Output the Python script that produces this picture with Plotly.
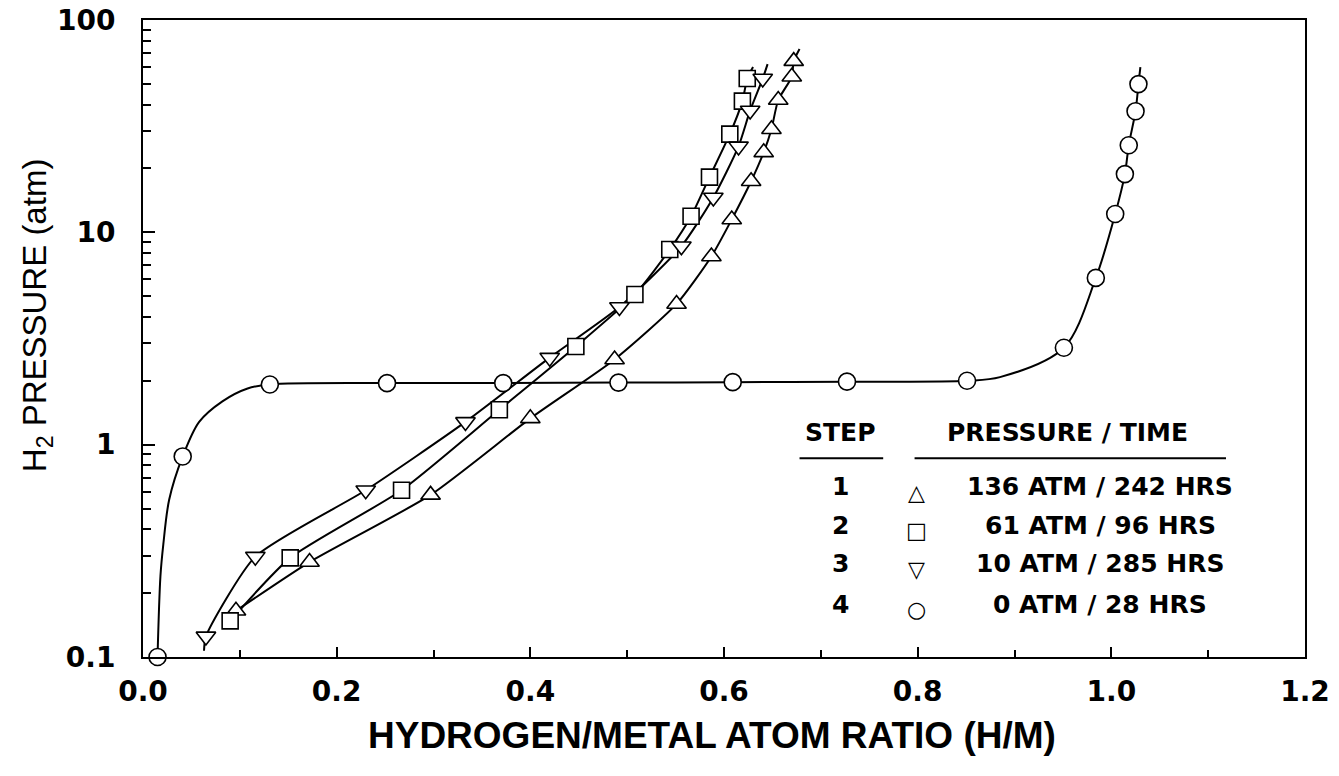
import plotly.graph_objects as go

# ---------- 数据 ----------
# step 1: 136 ATM / 242 HRS (up triangles)
step1_x = [0.096, 0.172, 0.297, 0.400, 0.487, 0.551, 0.587, 0.608, 0.628, 0.641, 0.649, 0.656, 0.670, 0.672]
step1_y = [0.165, 0.28, 0.58, 1.33, 2.52, 4.6, 7.7, 11.5, 17.4, 23.8, 30.6, 42.0, 54.0, 64.0]
# 曲线上无符号的延伸点
step1_path_x = [0.678]
step1_path_y = [73.0]

# step 2: 61 ATM / 96 HRS (squares)
step2_x = [0.090, 0.152, 0.267, 0.368, 0.447, 0.508, 0.544, 0.566, 0.585, 0.606, 0.619, 0.624]
step2_y = [0.148, 0.293, 0.61, 1.46, 2.9, 5.1, 8.3, 11.9, 18.2, 29.0, 41.5, 53.0]
step2_path_x = [0.630]
step2_path_y = [60.0]

# step 3: 10 ATM / 285 HRS (down triangles)
step3_x = [0.065, 0.116, 0.230, 0.333, 0.420, 0.492, 0.556, 0.589, 0.615, 0.627, 0.640]
step3_y = [0.125, 0.297, 0.61, 1.28, 2.57, 4.45, 8.6, 14.6, 25.4, 37.5, 53.0]
step3_path_x = [0.063, 0.645]
step3_path_y = [0.107, 62.0]

# step 4: 0 ATM / 28 HRS (circles)
step4_x = [0.015, 0.041, 0.131, 0.252, 0.372, 0.491, 0.609, 0.727, 0.851, 0.951, 0.984, 1.004, 1.014, 1.018, 1.025, 1.028]
step4_y = [0.10, 0.88, 1.92, 1.95, 1.95, 1.96, 1.97, 1.98, 2.0, 2.86, 6.1, 12.2, 18.8, 25.7, 37.2, 49.9]
step4_path_x = [0.018, 0.021, 0.027, 0.058, 0.082, 0.108, 0.885, 1.030]
step4_path_y = [0.24, 0.34, 0.55, 1.28, 1.60, 1.84, 2.08, 60.0]

legend_steps = ["1", "2", "3", "4"]
legend_symbols = ["\u25b3", "\u25a1", "\u25bd", "\u25cb"]
legend_labels = ["136 ATM / 242 HRS", "61 ATM / 96 HRS", "10 ATM / 285 HRS", "0 ATM / 28 HRS"]

x_ticks = [0.0, 0.2, 0.4, 0.6, 0.8, 1.0, 1.2]
x_ticktext = ["0.0", "0.2", "0.4", "0.6", "0.8", "1.0", "1.2"]
y_ticks = [0.1, 1, 10, 100]
y_ticktext = ["0.1", "1", "10", "100"]
y_minor = [m * d for d in (0.1, 1, 10) for m in range(2, 10)]

NUM_FONT = "DejaVu Sans"
TXT_FONT = "Liberation Sans"

series = [
    (step1_x, step1_y, step1_path_x, step1_path_y, "triangle-up", 17, 0.6),
    (step2_x, step2_y, step2_path_x, step2_path_y, "square", 16, 0.6),
    (step3_x, step3_y, step3_path_x, step3_path_y, "triangle-down", 17, 0.6),
    (step4_x, step4_y, step4_path_x, step4_path_y, "circle", 17, 0.9),
]

fig = go.Figure()

# 先画曲线（符号点 + 延伸点，按 x 排序）
for xs, ys, px, py, sym, sz, sm in series:
    pts = sorted(zip(list(xs) + list(px), list(ys) + list(py)))
    fig.add_trace(go.Scatter(x=[p[0] for p in pts], y=[p[1] for p in pts], mode="lines",
                             showlegend=False, hoverinfo="skip", cliponaxis=False,
                             line=dict(color="black", width=2, shape="spline", smoothing=sm)))

# 再画空心符号
for xs, ys, px, py, sym, sz, sm in series:
    fig.add_trace(go.Scatter(x=xs, y=ys, mode="markers", showlegend=False, cliponaxis=False,
                             marker=dict(symbol=sym, size=sz, color="white",
                                         line=dict(color="black", width=1.6))))

fig.update_xaxes(range=[0, 1.2], tickvals=x_ticks, ticktext=x_ticktext,
                 ticks="inside", ticklen=10, tickwidth=2, tickcolor="black",
                 minor=dict(ticks="inside", ticklen=7, tickwidth=2, dtick=0.1, tickcolor="black"),
                 showline=True, linecolor="black", linewidth=2, mirror=True,
                 showgrid=False, zeroline=False, automargin=False, ticklabeloverflow="allow",
                 tickfont=dict(family=NUM_FONT, size=28, color="black", weight="bold"),
                 ticklabelstandoff=8)
fig.update_yaxes(type="log", range=[-1, 2], tickvals=y_ticks, ticktext=y_ticktext,
                 ticks="inside", ticklen=12, tickwidth=2, tickcolor="black",
                 minor=dict(ticks="inside", ticklen=8, tickwidth=1.5, tickcolor="black",
                            tickmode="array", tickvals=y_minor),
                 showline=True, linecolor="black", linewidth=2, mirror=True,
                 showgrid=False, zeroline=False, automargin=False, ticklabeloverflow="allow",
                 tickfont=dict(family=NUM_FONT, size=28, color="black", weight="bold"),
                 ticklabelstandoff=20)

ann = [
    dict(text="H<sub>2</sub> PRESSURE (atm)", x=-0.091, y=0.537, textangle=-90,
         font=dict(family=TXT_FONT, size=33, color="black")),
    dict(text="HYDROGEN/METAL ATOM RATIO (H/M)", x=0.49, y=-0.124,
         font=dict(family=TXT_FONT, size=37, color="black", weight="bold")),
    dict(text="STEP", x=0.600, y=0.352,
         font=dict(family=NUM_FONT, size=25, color="black", weight="bold")),
    dict(text="PRESSURE / TIME", x=0.796, y=0.352,
         font=dict(family=NUM_FONT, size=25, color="black", weight="bold")),
]
row_y = [0.267, 0.207, 0.146, 0.083]
for i in range(4):
    ann.append(dict(text=legend_steps[i], x=0.600, y=row_y[i],
                    font=dict(family=NUM_FONT, size=25, color="black", weight="bold")))
    ann.append(dict(text=legend_symbols[i], x=0.666, y=row_y[i] - 0.008,
                    font=dict(family="DejaVu Sans", size=22, color="black")))
    ann.append(dict(text=legend_labels[i], x=0.824, y=row_y[i],
                    font=dict(family=NUM_FONT, size=25, color="black", weight="bold")))
for a in ann:
    a.update(xref="paper", yref="paper", showarrow=False, xanchor="center", yanchor="middle")

shapes = [
    dict(type="line", xref="paper", yref="paper", x0=0.565, x1=0.637, y0=0.312, y1=0.312,
         line=dict(color="black", width=2)),
    dict(type="line", xref="paper", yref="paper", x0=0.664, x1=0.932, y0=0.312, y1=0.312,
         line=dict(color="black", width=2)),
]

fig.update_layout(width=1339, height=776, margin=dict(l=143, r=34, t=20, b=119),
                  plot_bgcolor="white", paper_bgcolor="white",
                  annotations=ann, shapes=shapes)

# 去掉页面 body 默认的 8px 边距，隐藏工具栏
fig.write_html("out.html", config={"displayModeBar": False},
               post_script="document.body.style.margin='0';")
